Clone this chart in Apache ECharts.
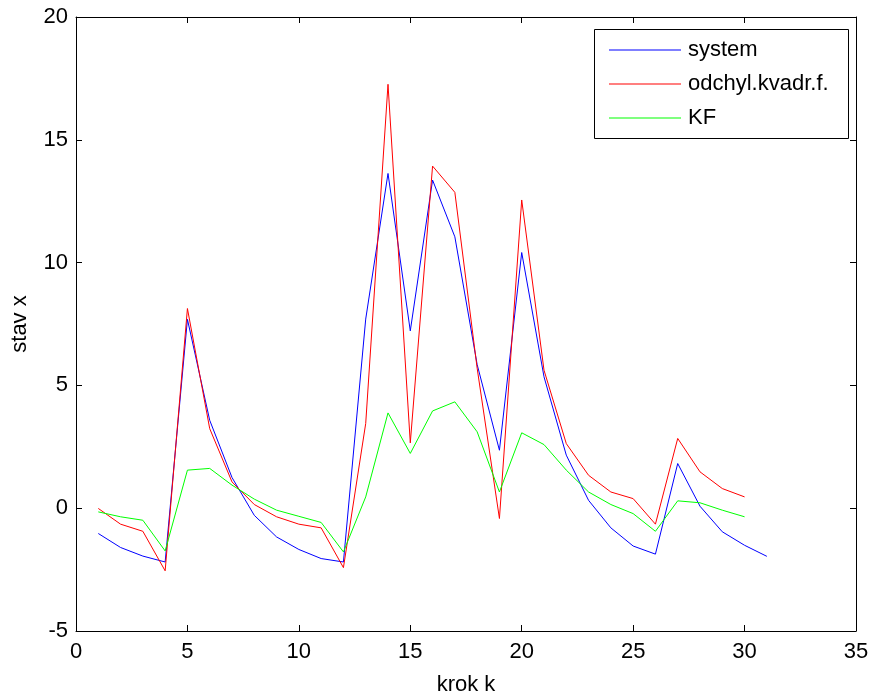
<!DOCTYPE html>
<html>
<head>
<meta charset="utf-8">
<script src="https://cdn.jsdelivr.net/npm/echarts@6/dist/echarts.min.js"></script>
<style>
  html, body { margin: 0; padding: 0; background: #fff; }
  #chart { width: 872px; height: 698px; }
</style>
</head>
<body>
<div id="chart"></div>
<script>
// krok k
const steps = [1, 2, 3, 4, 5, 6, 7, 8, 9, 10, 11, 12, 13, 14, 15, 16, 17, 18, 19, 20,
               21, 22, 23, 24, 25, 26, 27, 28, 29, 30, 31];

// skutečný stav systému
const systemValues = [-1.03, -1.6, -1.95, -2.19, 7.69, 3.58, 1.25, -0.29, -1.17, -1.68,
                      -2.05, -2.19, 7.7, 13.63, 7.22, 13.36, 11.05, 5.85, 2.36, 10.41,
                      5.35, 2.16, 0.32, -0.8, -1.54, -1.87, 1.82, 0.08, -0.96, -1.51, -1.96];

// odhad – odchylková kvadratická forma
const odchylValues = [-0.01, -0.65, -0.94, -2.55, 8.13, 3.24, 1.07, 0.15, -0.35, -0.65,
                      -0.8, -2.42, 3.45, 17.26, 2.66, 13.93, 12.86, 5.7, -0.42, 12.55,
                      5.62, 2.63, 1.34, 0.66, 0.39, -0.65, 2.84, 1.48, 0.8, 0.46];

// odhad – Kalmanův filtr
const kfValues = [-0.15, -0.35, -0.49, -1.74, 1.55, 1.62, 0.94, 0.37, -0.08, -0.33,
                  -0.58, -1.78, 0.46, 3.88, 2.23, 3.96, 4.33, 3.11, 0.66, 3.07,
                  2.59, 1.55, 0.66, 0.15, -0.22, -0.94, 0.3, 0.22, -0.08, -0.35];

const xTicks = { min: 0, max: 35, interval: 5 };
const yTicks = { min: -5, max: 20, interval: 5 };

const pairs = vals => vals.map((v, i) => [steps[i], v]);

const FONT = '"Liberation Sans", Arial, sans-serif';
const axisCommon = {
  axisLine: { show: true, onZero: false, lineStyle: { color: '#000', width: 1 } },
  axisTick: { show: true, inside: true, length: 6, lineStyle: { color: '#000', width: 1 } },
  splitLine: { show: false }
};

const chart = echarts.init(document.getElementById('chart'), null, { renderer: 'canvas' });

chart.setOption({
  backgroundColor: '#fff',
  animation: false,
  grid: { left: 76, right: 16, top: 17, bottom: 67, containLabel: false, outerBoundsMode: 'none' },
  xAxis: [
    Object.assign({
      type: 'value', position: 'bottom',
      min: xTicks.min, max: xTicks.max, interval: xTicks.interval,
      name: 'krok k', nameLocation: 'middle', nameGap: 43,
      nameTextStyle: { fontFamily: FONT, fontSize: 22, color: '#000' },
      axisLabel: { fontFamily: FONT, fontSize: 22, color: '#000', margin: 10 }
    }, axisCommon),
    Object.assign({
      type: 'value', position: 'top',
      min: xTicks.min, max: xTicks.max, interval: xTicks.interval,
      axisLabel: { show: false }
    }, axisCommon)
  ],
  yAxis: [
    Object.assign({
      type: 'value', position: 'left',
      min: yTicks.min, max: yTicks.max, interval: yTicks.interval,
      name: 'stav x', nameLocation: 'middle', nameGap: 45,
      nameTextStyle: { fontFamily: FONT, fontSize: 22, color: '#000' },
      axisLabel: { fontFamily: FONT, fontSize: 22, color: '#000', margin: 8 }
    }, axisCommon),
    Object.assign({
      type: 'value', position: 'right',
      min: yTicks.min, max: yTicks.max, interval: yTicks.interval,
      axisLabel: { show: false }
    }, axisCommon)
  ],
  graphic: [{
    type: 'rect', z: 3,
    shape: { x: 594.5, y: 29.5, width: 254, height: 109 },
    style: { fill: '#fff', stroke: '#000', lineWidth: 1 }
  }],
  legend: {
    z: 10,
    orient: 'vertical',
    left: 609, top: 36,
    padding: 0,
    icon: 'rect',
    itemWidth: 72, itemHeight: 1, itemGap: 6,
    textStyle: {
      fontFamily: FONT, fontSize: 22, color: '#000',
      lineHeight: 24, padding: [4, 0, 0, 2]
    },
    data: ['system', 'odchyl.kvadr.f.', 'KF']
  },
  series: [
    {
      name: 'system', type: 'line', data: pairs(systemValues),
      symbol: 'none', color: '#0000ff',
      lineStyle: { color: '#0000ff', width: 1 }
    },
    {
      name: 'odchyl.kvadr.f.', type: 'line', data: pairs(odchylValues),
      symbol: 'none', color: '#ff0000',
      lineStyle: { color: '#ff0000', width: 1 }
    },
    {
      name: 'KF', type: 'line', data: pairs(kfValues),
      symbol: 'none', color: '#00ff00',
      lineStyle: { color: '#00ff00', width: 1 }
    }
  ]
});
</script>
</body>
</html>
